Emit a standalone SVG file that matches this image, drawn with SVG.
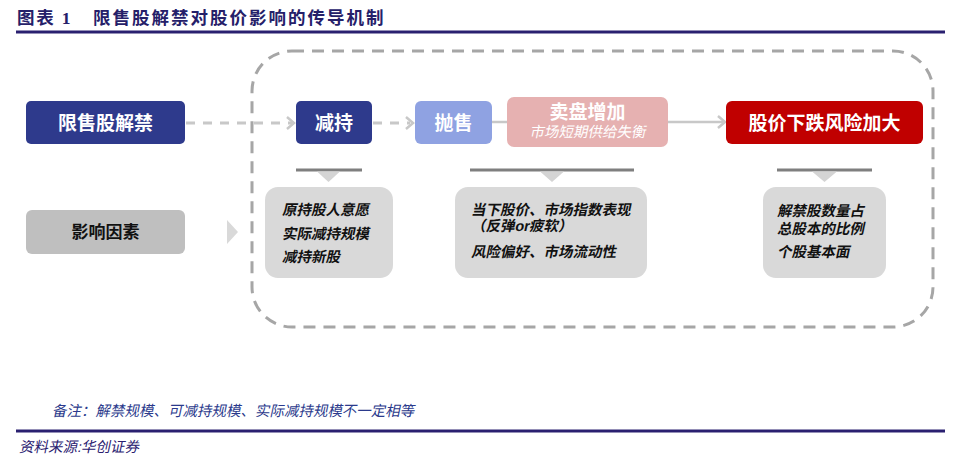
<svg xmlns="http://www.w3.org/2000/svg" width="962" height="465" viewBox="0 0 962 465">
<style>
.t{font-family:"Liberation Sans","Noto Sans CJK SC",sans-serif}
.w{fill:#fff;font-weight:bold;font-size:19px;text-anchor:middle}
.f{fill:#111;font-weight:bold;font-size:14.5px}
.fb{fill:#d9d9d9}
.bar{stroke:#7f7f7f;stroke-width:3}
.tri{fill:#d4d4d4}
.dash{stroke:#c8c8c8;stroke-width:3;stroke-dasharray:9 8;fill:none}
.sol{stroke:#c8c8c8;stroke-width:2.5;fill:none}
.hd{stroke:#c8c8c8;stroke-width:2.5;fill:none;stroke-linejoin:miter}
</style>
<rect width="962" height="465" fill="#fff"/>
<g id="title">
<text x="17" y="24" font-family="Liberation Serif,Noto Sans CJK SC,serif" font-size="17.5" font-weight="bold" fill="#252069" letter-spacing="1.8">图表 1</text>
<text x="93" y="24" class="t" font-size="17.5" font-weight="bold" fill="#252069" letter-spacing="2">限售股解禁对股价影响的传导机制</text>
<line x1="16" y1="32" x2="945" y2="32" stroke="#2a2070" stroke-width="3"/>
</g>
<g id="container">
<rect x="252" y="51" width="681" height="276" rx="40" ry="40" fill="none" stroke="#a6a6a6" stroke-width="3" stroke-dasharray="12 8"/>
</g>
<g id="connectors">
<line x1="186" y1="123" x2="292" y2="123" class="dash"/>
<polyline points="287,117 294,123 287,129" class="hd"/>
<line x1="373" y1="123" x2="410" y2="123" class="dash"/>
<polyline points="406,117 413,123 406,129" class="hd"/>
<line x1="492" y1="122" x2="507" y2="122" class="sol"/>
<line x1="668" y1="122" x2="723" y2="122" class="sol"/>
<polyline points="718,116 725,122 718,128" class="hd"/>
<polygon points="227,220 238,232 227,244" fill="#d9d9d9"/>
<line x1="296" y1="170" x2="362" y2="170" class="bar"/>
<polygon points="317,171.5 340,171.5 328.5,182" class="tri"/>
<line x1="470" y1="170" x2="634" y2="170" class="bar"/>
<polygon points="540,171.5 564,171.5 552,182" class="tri"/>
<line x1="777" y1="170" x2="872" y2="170" class="bar"/>
<polygon points="812,171.5 837,171.5 824.5,182" class="tri"/>
</g>
<g id="n-jiejin">
<rect x="26" y="101" width="159" height="43" rx="5" fill="#2e3a8c"/>
<text x="105.5" y="129.5" class="t w">限售股解禁</text>
</g>
<g id="n-jianchi">
<rect x="296" y="101" width="76" height="43" rx="5" fill="#2e3a8c"/>
<text x="334" y="129.5" class="t w">减持</text>
</g>
<g id="n-paoshou">
<rect x="415" y="101" width="77" height="43" rx="6" fill="#8fa2e2"/>
<text x="453.5" y="129.5" class="t w">抛售</text>
</g>
<g id="n-maipan">
<rect x="507" y="97" width="161" height="50" rx="7" fill="#e6b1b1"/>
<text x="587.5" y="119" class="t w" font-size="17">卖盘增加</text>
<text transform="translate(587.5,137) skewX(-12)" class="t" fill="#fff" font-size="14.5" text-anchor="middle">市场短期供给失衡</text>
</g>
<g id="n-risk">
<rect x="726" y="101" width="197" height="43" rx="6" fill="#c00000"/>
<text x="824.5" y="129.5" class="t w" font-size="19.5">股价下跌风险加大</text>
</g>
<g id="n-factors">
<rect x="26" y="210" width="159" height="44" rx="6" fill="#bfbfbf"/>
<text x="105.5" y="238" class="t" font-size="17" font-weight="bold" fill="#111" text-anchor="middle">影响因素</text>
</g>
<g id="f1">
<rect x="265" y="187" width="128" height="91" rx="13" class="fb"/>
<text transform="translate(282,215) skewX(-12)" class="t f">原持股人意愿</text>
<text transform="translate(282,239) skewX(-12)" class="t f">实际减持规模</text>
<text transform="translate(282,262) skewX(-12)" class="t f">减持新股</text>
</g>
<g id="f2">
<rect x="455" y="187" width="192" height="91" rx="13" class="fb"/>
<text transform="translate(471,215) skewX(-12)" class="t f">当下股价、市场指数表现</text>
<text transform="translate(471,231) skewX(-12)" class="t f">（反弹or疲软）</text>
<text transform="translate(471,257) skewX(-12)" class="t f">风险偏好、市场流动性</text>
</g>
<g id="f3">
<rect x="763" y="187" width="123" height="91" rx="13" class="fb"/>
<text transform="translate(777,216) skewX(-12)" class="t f">解禁股数量占</text>
<text transform="translate(777,234) skewX(-12)" class="t f">总股本的比例</text>
<text transform="translate(777,257) skewX(-12)" class="t f">个股基本面</text>
</g>
<g id="footer">
<text transform="translate(52,416) skewX(-12)" class="t" font-size="14.5" fill="#2b3a8c">备注：解禁规模、可减持规模、实际减持规模不一定相等</text>
<line x1="16" y1="431" x2="945" y2="431" stroke="#2a2070" stroke-width="3"/>
<text transform="translate(19,452) skewX(-12)" class="t" font-size="14.5" fill="#2a2070">资料来源:华创证券</text>
</g>
</svg>
